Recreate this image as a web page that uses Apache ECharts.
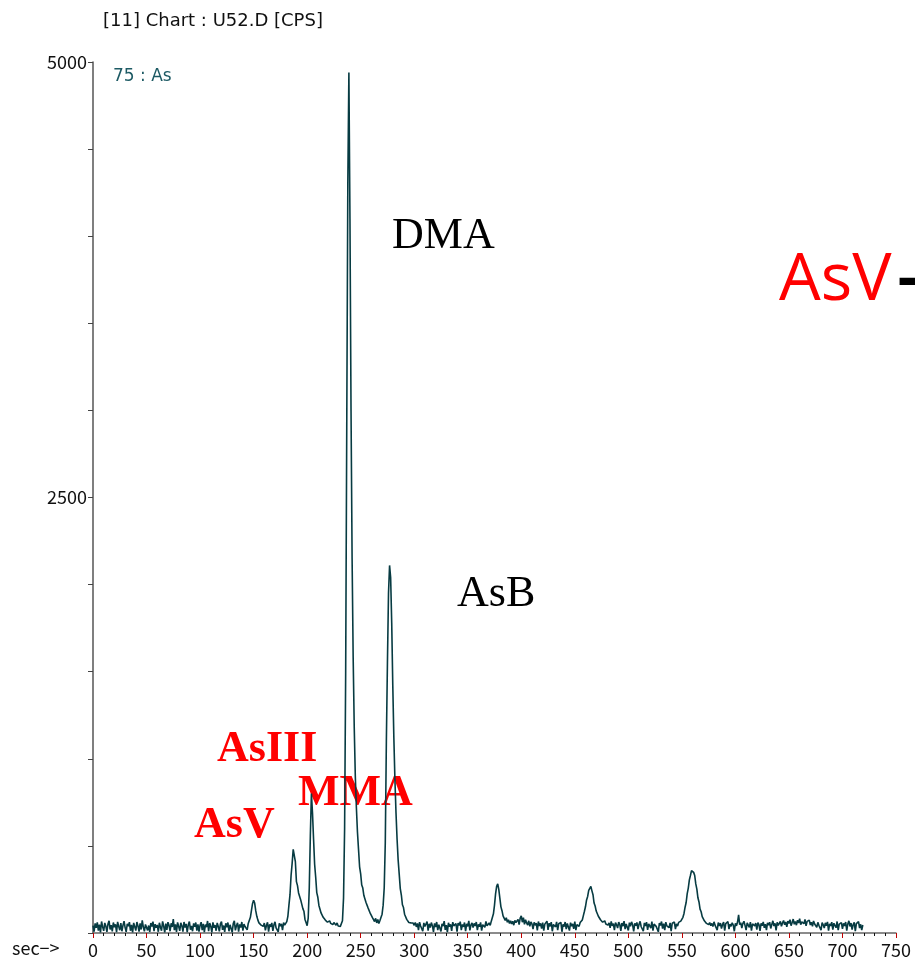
<!DOCTYPE html>
<html>
<head>
<meta charset="utf-8">
<title>[11] Chart : U52.D [CPS]</title>
<script src="https://cdn.jsdelivr.net/npm/echarts@6/dist/echarts.min.js"></script>
<style>
  html, body { margin: 0; padding: 0; background: #fff; }
  #chart { width: 915px; height: 960px; }
</style>
</head>
<body>
<div id="chart"></div>
<script>
// Acquisition: one reading per second, m/z 75 (As), counts per second
const startSec = 0;
const stepSec = 1;
const cps = [
  42, 8, 55, 30, 61, 14, 48, 4, 66, 35, 12, 58, 40, 6, 52, 70, 20, 45, 9, 60,
  33, 50, 5, 64, 38, 16, 57, 10, 44, 68, 31, 7, 53, 39, 62, 13, 47, 3, 58, 36,
  14, 63, 41, 8, 55, 20, 72, 34, 10, 49, 60, 15, 43, 6, 57, 37, 65, 11, 51, 30,
  46, 7, 59, 33, 13, 67, 40, 4, 54, 18, 62, 44, 10, 56, 35, 80, 16, 49, 6, 61,
  38, 12, 58, 42, 8, 63, 31, 52, 5, 47, 66, 19, 41, 10, 55, 36, 60, 14, 50, 8,
  44, 62, 16, 53, 5, 48, 34, 69, 11, 57, 39, 3, 61, 30, 45, 13, 58, 37, 9, 52,
  65, 18, 43, 6, 56, 33, 60, 10, 47, 38, 4, 54, 70, 15, 42, 59, 8, 49, 31, 63,
  14, 51, 37, 45, 18, 55, 62, 90, 130, 168, 188, 172, 128, 96, 74, 58, 66, 45, 52, 38,
  57, 15, 44, 61, 8, 50, 35, 58, 12, 47, 64, 30, 41, 6, 56, 39, 53, 17, 60, 45,
  48, 65, 95, 160, 220, 330, 400, 480, 485, 410, 295, 272, 230, 228, 190, 185, 140, 125, 78, 60,
  42, 85, 260, 560, 800, 690, 540, 395, 320, 232, 205, 158, 150, 115, 112, 90, 94, 74, 80, 62,
  62, 70, 55, 64, 48, 60, 52, 45, 58, 40, 50, 38, 46, 70, 200, 600, 1500, 2900, 4300, 4940,
  4100, 3000, 2150, 1580, 1180, 900, 720, 580, 480, 380, 340, 275, 258, 215, 208, 175, 170, 143, 140, 112,
  115, 88, 92, 66, 84, 58, 78, 55, 72, 80, 108, 160, 260, 520, 1100, 1550, 1950, 2110, 2040, 1780,
  1420, 1120, 880, 690, 540, 420, 338, 255, 218, 162, 146, 108, 103, 78, 76, 60, 62, 58, 50, 57,
  44, 60, 35, 55, 17, 62, 40, 51, 10, 58, 37, 47, 66, 14, 53, 31, 60, 42, 7, 55,
  34, 63, 16, 48, 57, 9, 52, 39, 68, 18, 45, 5, 59, 36, 50, 12, 62, 41, 30, 54,
  8, 57, 43, 65, 17, 49, 35, 60, 11, 53, 38, 70, 15, 46, 58, 31, 55, 40, 63, 16,
  50, 36, 61, 13, 48, 57, 33, 66, 42, 52, 58, 44, 68, 75, 110, 160, 225, 268, 282, 250,
  200, 150, 128, 98, 96, 72, 88, 62, 76, 55, 70, 52, 67, 45, 72, 60, 55, 78, 48, 85,
  98, 62, 88, 50, 76, 58, 45, 70, 38, 64, 52, 22, 61, 44, 57, 15, 66, 40, 55, 25,
  60, 14, 51, 45, 68, 18, 56, 38, 62, 10, 49, 58, 35, 64, 16, 53, 42, 61, 7, 50,
  37, 63, 22, 55, 44, 14, 59, 40, 52, 24, 66, 17, 48, 57, 38, 60, 65, 75, 100, 125,
  152, 190, 210, 245, 252, 268, 242, 220, 172, 155, 126, 122, 96, 95, 76, 75, 62, 60, 70, 52,
  62, 45, 58, 30, 66, 41, 54, 17, 60, 47, 28, 63, 50, 12, 57, 39, 68, 22, 52, 44,
  15, 59, 38, 64, 47, 9, 55, 42, 61, 22, 50, 67, 36, 45, 11, 58, 40, 62, 18, 53,
  46, 28, 65, 14, 51, 60, 38, 48, 7, 57, 43, 66, 25, 54, 16, 62, 41, 49, 30, 58,
  11, 56, 45, 63, 22, 52, 40, 61, 55, 68, 78, 90, 112, 148, 175, 226, 258, 305, 330, 358,
  363, 348, 330, 282, 252, 202, 178, 137, 122, 94, 88, 70, 68, 55, 63, 48, 60, 42, 55, 37,
  64, 45, 52, 16, 60, 40, 57, 25, 49, 62, 13, 54, 43, 66, 22, 51, 38, 59, 46, 10,
  56, 41, 63, 104, 48, 60, 28, 55, 67, 44, 17, 58, 50, 32, 62, 14, 53, 45, 40, 57,
  20, 60, 48, 12, 55, 42, 64, 30, 51, 16, 58, 45, 62, 26, 49, 70, 40, 56, 15, 61,
  44, 52, 66, 38, 58, 72, 47, 63, 35, 68, 55, 76, 42, 60, 80, 50, 66, 45, 73, 57,
  82, 48, 64, 70, 53, 78, 41, 67, 59, 74, 46, 62, 38, 69, 52, 57, 33, 61, 44, 55,
  16, 60, 47, 28, 58, 42, 64, 13, 53, 40, 62, 20, 56, 48, 30, 66, 17, 51, 45, 60,
  24, 55, 41, 63, 14, 52, 70, 38, 57, 20, 48, 61, 10, 54, 43, 65, 28, 50, 16, 46
];

// Axis ranges and the tick values that carry labels
const timeRange = [0, 750];
const timeStep = 50;
const cpsRange = [0, 5000];
const cpsLabelled = [2500, 5000];

// Text drawn on the chart
const chartTitle = '[11] Chart : U52.D [CPS]';
const traceName = '75 : As';
const timeUnit = 'sec\u2212>';
const speciesBlack = [
  { text: 'DMA', x: 392, y: 236 },
  { text: 'AsB', x: 457, y: 594 }
];
const speciesRed = [
  { text: 'AsIII', x: 217, y: 750 },
  { text: 'MMA', x: 298, y: 794 },
  { text: 'AsV', x: 194, y: 826 }
];

const points = cps.map((v, i) => [startSec + i * stepSec, v]);

const uiFont = '"Noto Sans CJK JP", "Noto Sans", sans-serif';
const wideFont = '"DejaVu Sans", sans-serif';
const serifFont = '"Liberation Serif", "DejaVu Serif", serif';

const chart = echarts.init(document.getElementById('chart'), null, { renderer: 'canvas' });

const graphics = [
  {
    type: 'text', left: 103, top: 12,
    style: { text: chartTitle, font: '18px ' + wideFont, fill: '#111' }
  },
  {
    type: 'text', left: 113, top: 68,
    style: { text: traceName, font: '17px ' + wideFont, fill: '#1d5a64' }
  },
  {
    type: 'text', left: 12, top: 939,
    style: { text: timeUnit, font: '18px ' + uiFont, fill: '#111' }
  },
  {
    type: 'text', x: 779, y: 281,
    style: {
      text: 'AsV', font: '66px "Open Sans", "Noto Sans", sans-serif',
      fill: '#ff0000', textVerticalAlign: 'middle'
    }
  },
  {
    type: 'text', x: 897, y: 281,
    style: {
      text: '\u2014', font: 'bold 64px "Open Sans", "Noto Sans", sans-serif',
      fill: '#000', textVerticalAlign: 'middle'
    }
  }
];
speciesBlack.forEach(s => graphics.push({
  type: 'text', x: s.x, y: s.y,
  style: { text: s.text, font: '44px ' + serifFont, fill: '#000', textVerticalAlign: 'middle' }
}));
speciesRed.forEach(s => graphics.push({
  type: 'text', x: s.x, y: s.y,
  style: { text: s.text, font: 'bold 44px ' + serifFont, fill: '#ff0000', textVerticalAlign: 'middle' }
}));

chart.setOption({
  animation: false,
  backgroundColor: '#ffffff',
  grid: { left: 93, right: 19, top: 62, bottom: 27, containLabel: false },
  xAxis: {
    type: 'value',
    min: timeRange[0],
    max: timeRange[1],
    interval: timeStep,
    axisLine: { show: true, lineStyle: { color: '#666', width: 1.5 } },
    axisTick: { show: true, length: 5, lineStyle: { color: '#c00000', width: 1 } },
    minorTick: { show: true, splitNumber: 5, length: 3, lineStyle: { color: '#111', width: 1 } },
    splitLine: { show: false },
    axisLabel: {
      show: true, margin: 8, color: '#111', fontSize: 18, fontFamily: uiFont,
      showMinLabel: true, showMaxLabel: true
    }
  },
  yAxis: {
    type: 'value',
    min: cpsRange[0],
    max: cpsRange[1],
    interval: cpsLabelled[0],
    axisLine: { show: true, lineStyle: { color: '#555', width: 1.5 } },
    axisTick: { show: true, length: 5, lineStyle: { color: '#444', width: 1 } },
    minorTick: { show: true, splitNumber: 5, length: 5, lineStyle: { color: '#444', width: 1 } },
    splitLine: { show: false },
    axisLabel: {
      show: true, margin: 6, color: '#111', fontSize: 18, fontFamily: uiFont,
      formatter: v => (cpsLabelled.indexOf(v) >= 0 ? String(v) : '')
    }
  },
  series: [{
    type: 'line',
    data: points,
    showSymbol: false,
    symbol: 'none',
    sampling: null,
    silent: true,
    clip: true,
    lineStyle: { color: '#073b42', width: 1.6 },
    z: 3
  }],
  graphic: graphics
});
</script>
</body>
</html>
